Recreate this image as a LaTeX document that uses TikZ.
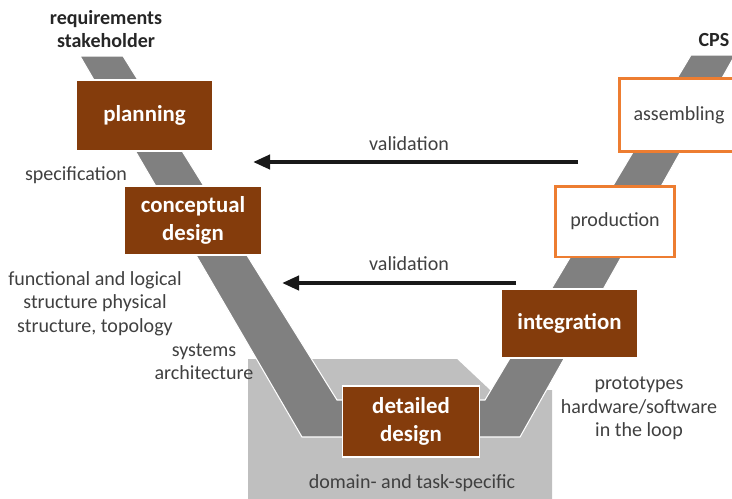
\documentclass[tikz,border=0pt]{standalone}
\usepackage{fontspec}
\setmainfont{Carlito}
\usetikzlibrary{arrows.meta}

\definecolor{phasebrown}{HTML}{843C0C}
\definecolor{phaseorange}{HTML}{ED7D31}
\definecolor{bandgray}{HTML}{808080}
\definecolor{boxgray}{HTML}{BFBFBF}
\definecolor{notegray}{HTML}{404040}

\tikzset{
  phase/.style={draw=white, line width=0.6pt, fill=phasebrown, text=white,
    font=\fontsize{13}{15.6}\selectfont\bfseries, align=center, inner sep=0pt,
    minimum width=2.74cm, minimum height=1.42cm},
  phaseout/.style={draw=phaseorange, line width=1.7pt, fill=white, text=notegray,
    font=\fontsize{11.4}{13.4}\selectfont, inner sep=0pt,
    minimum width=2.38cm, minimum height=1.42cm},
  note/.style={text=notegray, font=\fontsize{11.4}{13.4}\selectfont, align=center, inner sep=0pt},
  headnote/.style={text=black!85, font=\fontsize{11.4}{13.4}\selectfont\bfseries, align=center, inner sep=0pt},
  valarrow/.style={line width=0.08cm, black!90, -{Triangle[length=0.34cm, width=0.28cm]}}
}

\begin{document}
\begin{tikzpicture}[x=0.02cm, y=-0.02cm]
\useasboundingbox (0,0) rectangle (732,498);
\clip (0,0) rectangle (732,498);

% Draw the box behind the bottom of the V
\fill[boxgray] (248,359) -- (457,359) -- (490,390) -- (552,390) -- (552,510) -- (248,510) -- cycle;

% Draw the V band
\filldraw[fill=bandgray, draw=white, line width=0.6pt] (80,56) -- (123,56) -- (337,400) -- (485,400)
  -- (691,55) -- (735,55) -- (520,437) -- (302,437) -- cycle;

% Draw the phases
\node[phase] (planning) at (144.5,115.5) {planning};
\node[phase, minimum height=1.38cm] (concept) at (193,220.5) {conceptual\\design};
\node[phase] (detailed) at (411,421.5) {detailed\\design};
\node[phase, minimum height=1.38cm] (integration) at (569.5,323.5) {integration};
\node[phaseout] (production) at (615,221.5) {production};
\node[phaseout, minimum height=1.46cm] (assembling) at (679,115) {assembling};

% Labels round the V
\node[headnote] (req) at (106,29) {requirements\\stakeholder};
\node[headnote] (cps) at (714,40) {CPS};
\node[note] (spec) at (76,175) {specification};
\node[note] (funcstruct) at (95,303.5) {functional and logical\\structure physical\\structure, topology};
\node[note] (sysarch) at (204,361.5) {systems\\architecture};
\node[note] (proto) at (639,408.5) {prototypes\\hardware/software\\in the loop};
\node[note] (domain) at (412,483) {domain- and task-specific};

% Validation arrows
\coordinate (valtopstart) at (578,162);
\coordinate (valtopend) at (253,162);
\draw[valarrow] (valtopstart) -- (valtopend);
\node[note] (valtop) at (409,144) {validation};
\coordinate (valbotstart) at (516,283);
\coordinate (valbotend) at (282,283);
\draw[valarrow] (valbotstart) -- (valbotend);
\node[note] (valbot) at (409,264) {validation};
\end{tikzpicture}
\end{document}
